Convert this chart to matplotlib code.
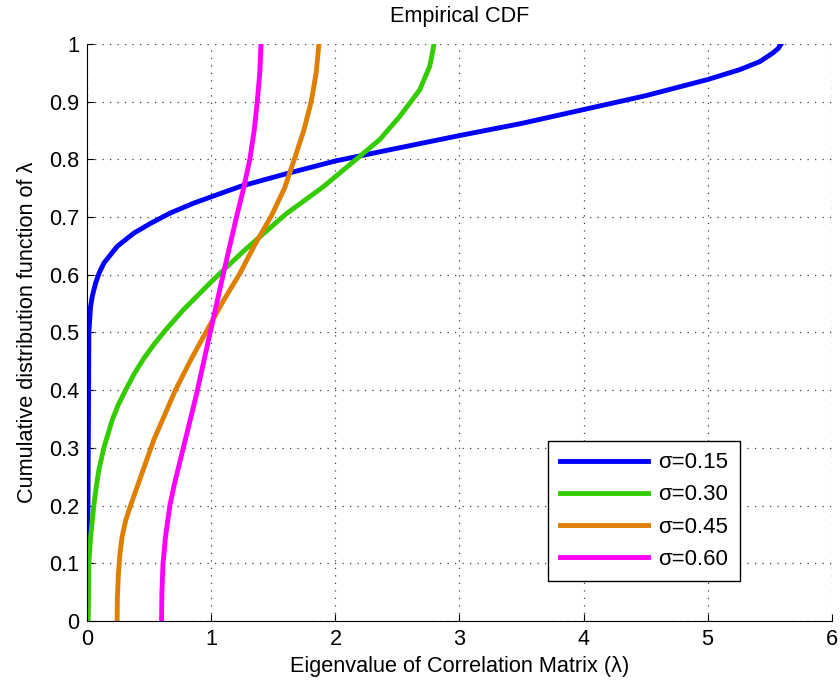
import matplotlib
matplotlib.use("Agg")
import matplotlib.pyplot as plt

plt.rcParams['font.family'] = ['Liberation Sans', 'DejaVu Sans']

# -------------------------
# Data
# -------------------------
labels = ["σ=0.15", "σ=0.30", "σ=0.45", "σ=0.60"]
colors = ["#0000ff", "#33cc00", "#de7f00", "#ff00ff"]

x_015 = [0.0, 0.005, 0.01, 0.012, 0.026, 0.04, 0.066, 0.095, 0.133, 0.24, 0.375, 0.51, 0.67,
         0.858, 1.0, 1.234, 1.605, 2.0, 2.36, 3.0, 3.5, 4.0, 4.5, 5.0, 5.257, 5.42, 5.526,
         5.57, 5.594]
y_015 = [0.0, 0.2, 0.4, 0.5, 0.545, 0.563, 0.585, 0.603, 0.62, 0.649, 0.672, 0.689, 0.707,
         0.724, 0.735, 0.753, 0.775, 0.797, 0.813, 0.841, 0.862, 0.886, 0.91, 0.938, 0.955, 0.969, 0.984,
         0.992, 1.0]

x_030 = [0.007, 0.012, 0.026, 0.052, 0.072, 0.093, 0.133, 0.2, 0.25, 0.308, 0.38, 0.455, 0.54,
         0.63, 0.778, 1.0, 1.26, 1.6, 1.9, 2.14, 2.357, 2.518, 2.679, 2.76, 2.778, 2.795]
y_030 = [0.0, 0.1, 0.146, 0.2, 0.233, 0.262, 0.3, 0.348, 0.375, 0.4, 0.429, 0.455, 0.48,
         0.504, 0.54, 0.588, 0.641, 0.705, 0.752, 0.795, 0.834, 0.874, 0.92, 0.961, 0.98, 1.0]

x_045 = [0.24, 0.242, 0.25, 0.262, 0.28, 0.31, 0.348, 0.45, 0.536, 0.71, 0.84, 0.965, 1.10,
         1.229, 1.35, 1.484, 1.59, 1.672, 1.745, 1.805, 1.845, 1.867]
y_045 = [0.0, 0.04, 0.08, 0.115, 0.146, 0.175, 0.2, 0.262, 0.314, 0.4, 0.455, 0.504, 0.556,
         0.602, 0.652, 0.702, 0.75, 0.802, 0.85, 0.9, 0.95, 1.0]

x_060 = [0.598, 0.601, 0.61, 0.63, 0.665, 0.697, 0.73, 0.80, 0.88, 0.98, 1.10, 1.20,
         1.26, 1.31, 1.345, 1.37, 1.39, 1.40]
y_060 = [0.0, 0.05, 0.1, 0.146, 0.2, 0.233, 0.262, 0.323, 0.393, 0.49, 0.605, 0.698,
         0.75, 0.8, 0.85, 0.9, 0.95, 1.0]

xs = [x_015, x_030, x_045, x_060]
ys = [y_015, y_030, y_045, y_060]

xticks = [0, 1, 2, 3, 4, 5, 6]
yticks = [0, 0.1, 0.2, 0.3, 0.4, 0.5, 0.6, 0.7, 0.8, 0.9, 1]

# -------------------------
# Plot
# -------------------------
fig = plt.figure(figsize=(8.4, 6.84), dpi=100)
ax = fig.add_axes([0.104, 0.092, 0.886, 0.844])

for x, y, c, lab in zip(xs, ys, colors, labels):
    ax.plot(x, y, color=c, linewidth=3.5, label=lab, solid_joinstyle='round')

ax.set_xlim(0, 6)
ax.set_ylim(0, 1)
ax.set_xticks(xticks)
ax.set_yticks(yticks)
ax.set_yticklabels([f"{v:g}" for v in yticks])
ax.tick_params(direction='in', length=5, labelsize=15.6, pad=6)
ax.grid(True, linestyle=(0, (1, 5)), color='0.25', linewidth=0.9)

for side in ["top", "right"]:
    ax.spines[side].set_visible(False)

ax.set_title("Empirical CDF", fontsize=15.6, pad=16)
ax.set_xlabel("Eigenvalue of Correlation Matrix (λ)", fontsize=15.6, labelpad=4)
ax.set_ylabel("Cumulative distribution function of λ", fontsize=15.6, labelpad=7.5)

leg = ax.legend(loc='lower left', bbox_to_anchor=(0.619, 0.069), fontsize=16,
                fancybox=False, edgecolor='black', framealpha=1,
                handlelength=4.0, handletextpad=0.45, labelspacing=0.5,
                borderpad=0.52, borderaxespad=0)
leg.get_frame().set_linewidth(1.0)

plt.savefig("out.png", dpi=100)
plt.close()
